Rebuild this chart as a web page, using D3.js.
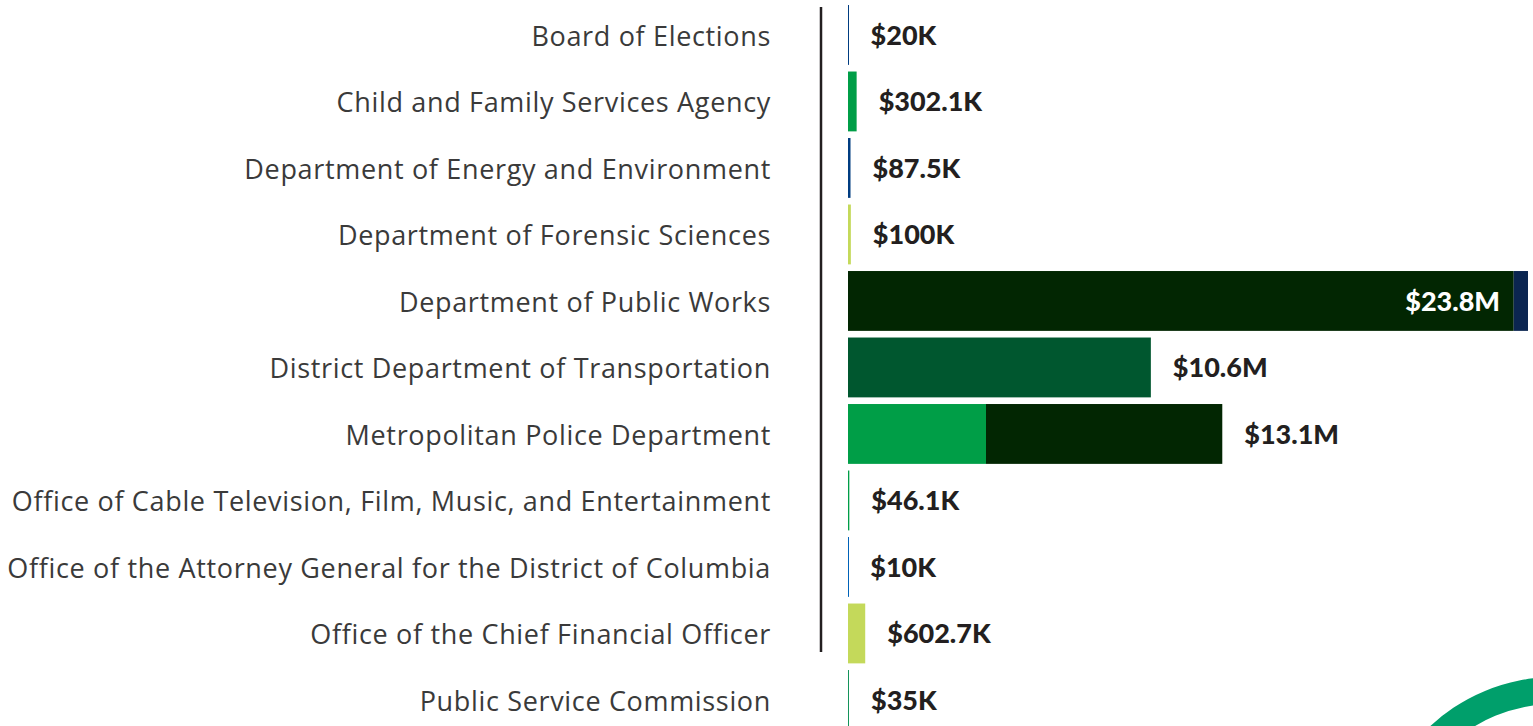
<!DOCTYPE html>
<html>
<head>
<meta charset="utf-8">
<script src="https://cdn.jsdelivr.net/npm/d3@7"></script>
<style>
  body { margin: 0; background: #fff; }
  #canvas { display: block; }
</style>
</head>
<body>
<svg id="canvas" width="1533" height="726"></svg>
<script>
// agencies, top to bottom
let agencies = [
    'Board of Elections',
    'Child and Family Services Agency',
    'Department of Energy and Environment',
    'Department of Forensic Sciences',
    'Department of Public Works',
    'District Department of Transportation',
    'Metropolitan Police Department',
    'Office of Cable Television, Film, Music, and Entertainment',
    'Office of the Attorney General for the District of Columbia',
    'Office of the Chief Financial Officer',
    'Public Service Commission'
]

// amounts in $M, one array per funding segment (same order as agencies)
let segNavy     = [0.02, 0, 0.0875, 0, 0, 0, 0, 0, 0, 0, 0]
let segGreen    = [0, 0.3021, 0, 0, 0, 0, 4.83, 0.0461, 0, 0, 0]
let segLime     = [0, 0, 0, 0.1, 0, 0, 0, 0, 0, 0.6027, 0]
let segDark     = [0, 0, 0, 0, 23.3, 0, 8.27, 0, 0, 0, 0]
let segMidnight = [0, 0, 0, 0, 0.5, 0, 0, 0, 0, 0, 0]
let segForest   = [0, 0, 0, 0, 0, 10.6, 0, 0, 0, 0, 0]
let segBlue     = [0, 0, 0, 0, 0, 0, 0, 0, 0.01, 0, 0]
let segTeal     = [0, 0, 0, 0, 0, 0, 0, 0, 0, 0, 0.035]

// total labels
let totalLabels = ['$20K', '$302.1K', '$87.5K', '$100K', '$23.8M', '$10.6M',
    '$13.1M', '$46.1K', '$10K', '$602.7K', '$35K']

let segKeys = ['navy', 'green', 'lime', 'dark', 'midnight', 'forest', 'blue', 'teal']
let segColors = ['#003c80', '#009e47', '#c4d95a', '#022602', '#0b2550', '#00572f', '#0062b8', '#14935a']
let segArrays = [segNavy, segGreen, segLime, segDark, segMidnight, segForest, segBlue, segTeal]

let canvas = d3.select('#canvas')

function drawChart() {

    let rows = agencies.map(function (a, i) {
        let r = {agency: a, label: totalLabels[i]}
        segKeys.forEach(function (k, j) { r[k] = segArrays[j][i] })
        return r
    })

    let stacked = d3.stack().keys(segKeys)(rows)

    let x = d3.scaleLinear()
        .domain([0, 23.8])
        .range([848, 1528])

    let y = d3.scaleBand()
        .domain(agencies)
        .range([1.7, 733.2])
        .paddingInner(0.1)
        .paddingOuter(0.05)

    // decorative ring in the corner
    canvas.append('path')
        .attr('transform', 'translate(1555,860)')
        .attr('d', d3.arc()({innerRadius: 156, outerRadius: 183, startAngle: 0, endAngle: 2 * Math.PI}))
        .attr('fill', '#009f6b')

    // bars
    canvas.append('g')
        .selectAll('g')
        .data(stacked)
        .enter()
        .append('g')
        .attr('fill', function (d, i) { return segColors[i] })
        .selectAll('rect')
        .data(function (d) { return d.filter(function (s) { return s[1] - s[0] > 0 }) })
        .enter()
        .append('rect')
        .attr('x', function (d) { return x(d[0]) })
        .attr('y', function (d) { return y(d.data.agency) })
        .attr('height', y.bandwidth())
        .attr('width', function (d) { return Math.max(1, x(d[1]) - x(d[0])) })

    // agency labels
    let axis = d3.axisLeft(y).tickSize(0).tickPadding(50)
    let ax = canvas.append('g')
        .attr('transform', 'translate(821,0)')
        .call(axis)
    ax.select('.domain').remove()
    ax.selectAll('text')
        .attr('font-family', '"Open Sans", sans-serif')
        .attr('font-size', 27)
        .attr('fill', '#3a3a3a')
        .attr('dy', '0.4em')

    // stretch spacing so the longest label spans like the original
    let longest = 0
    ax.selectAll('text').each(function () { longest = Math.max(longest, this.getComputedTextLength()) })
    let ls = (763 - longest) / 58
    ax.selectAll('text').attr('letter-spacing', ls + 'px')

    // vertical rule
    canvas.append('line')
        .attr('x1', 821).attr('x2', 821)
        .attr('y1', 7).attr('y2', 652)
        .attr('stroke', '#231f20')
        .attr('stroke-width', 2.5)

    // totals
    canvas.append('g')
        .selectAll('text')
        .data(rows)
        .enter()
        .append('text')
        .attr('font-family', 'Lato, sans-serif')
        .attr('font-weight', 900)
        .attr('font-size', 27)
        .attr('dy', '0.36em')
        .attr('y', function (d) { return y(d.agency) + y.bandwidth() / 2 })
        .attr('x', function (d) {
            let tot = d3.sum(segKeys, function (k) { return d[k] })
            if (tot > 20) return x(tot) - 28
            return x(tot) + 22
        })
        .attr('text-anchor', function (d) {
            let tot = d3.sum(segKeys, function (k) { return d[k] })
            return tot > 20 ? 'end' : 'start'
        })
        .attr('fill', function (d) {
            let tot = d3.sum(segKeys, function (k) { return d[k] })
            return tot > 20 ? '#ffffff' : '#231f20'
        })
        .text(function (d) { return d.label })
}

window.onload = drawChart
</script>
</body>
</html>
